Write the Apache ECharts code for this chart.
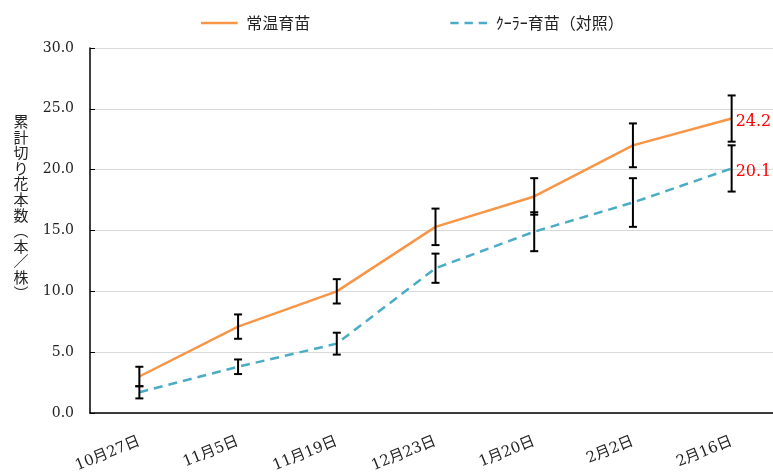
<!DOCTYPE html>
<html><head><meta charset="utf-8">
<script src="https://cdn.jsdelivr.net/npm/echarts@6/dist/echarts.min.js"></script>
<style>html,body{margin:0;padding:0;background:#fff;overflow:hidden}#c{width:781px;height:472px}</style>
</head><body><div id="c"></div>
<script>
const categories = ['10月27日','11月5日','11月19日','12月23日','1月20日','2月2日','2月16日'];
const seriesNames = ['常温育苗','ｸｰﾗｰ育苗（対照）'];
const normalTemp = [3.0, 7.1, 10.0, 15.3, 17.8, 22.0, 24.2];
const normalErr  = [0.8, 1.0, 1.0, 1.5, 1.5, 1.8, 1.9];
const cooler     = [1.7, 3.8, 5.7, 11.9, 14.9, 17.3, 20.1];
const coolerErr  = [0.5, 0.6, 0.9, 1.2, 1.6, 2.0, 1.9];
const yTicks = {min: 0, max: 30, interval: 5};
const yTitle = '累計切り花本数︵本／株︶';

function errData(vals, errs){ return vals.map((v,i)=>[i, v-errs[i], v+errs[i]]); }
function renderErr(params, api){
  const x = api.value(0);
  const lo = api.coord([x, api.value(1)]);
  const hi = api.coord([x, api.value(2)]);
  const w = 4;
  const st = {stroke:'#000', lineWidth:2};
  return {type:'group', children:[
    {type:'line', shape:{x1:lo[0],y1:lo[1],x2:hi[0],y2:hi[1]}, style:st},
    {type:'line', shape:{x1:lo[0]-w,y1:lo[1],x2:lo[0]+w,y2:lo[1]}, style:st},
    {type:'line', shape:{x1:hi[0]-w,y1:hi[1],x2:hi[0]+w,y2:hi[1]}, style:st}
  ]};
}
const serif = "'DejaVu Serif', 'Noto Sans CJK JP', serif";
const chart = echarts.init(document.getElementById('c'));
const endLbl = {show:true, distance:4, color:'#ff0000', fontFamily:serif, fontSize:16, offset:[0,3],
  formatter:(p)=> Number(p.value).toFixed(1)};
chart.setOption({
  animation:false,
  legend:{left:196, top:10, itemWidth:44, itemHeight:2.5, itemGap:140,
    data:[{name:seriesNames[0], icon:'path://M0,0h44v3h-44z'},
          {name:seriesNames[1], icon:'path://M0,0h10v3h-10zM17,0h10v3h-10zM34,0h10v3h-10z'}],
    textStyle:{fontSize:16, fontFamily:"'Noto Sans CJK JP', sans-serif", color:'#222'}},
  graphic:[{type:'text', x:21, y:207, style:{text: yTitle.split('').join('\n'), fontSize:15, lineHeight:15.6,
    fontFamily:"'Noto Sans CJK JP', sans-serif", fill:'#222', textAlign:'center', textVerticalAlign:'middle'}}],
  grid:{left:90, top:48, bottom:59, right:0, containLabel:false, outerBoundsMode:'none'},
  xAxis:{type:'category', data:categories, boundaryGap:true,
    axisLine:{lineStyle:{color:'#000', width:1.5}},
    axisTick:{inside:true, length:5, lineStyle:{color:'#000'}},
    axisLabel:{rotate:22, margin:28, fontSize:15, color:'#222', fontFamily:serif, interval:0}},
  yAxis:{type:'value', min:yTicks.min, max:yTicks.max, interval:yTicks.interval,
    axisLine:{show:true, lineStyle:{color:'#000', width:1.5}},
    axisTick:{show:true, inside:true, length:5, lineStyle:{color:'#000'}},
    splitLine:{lineStyle:{color:'#d9d9d9', width:1}},
    axisLabel:{margin:16, fontSize:14, color:'#222', fontFamily:serif, formatter:(v)=>v.toFixed(1)}},
  series:[
    {name:seriesNames[0], type:'line', data:normalTemp, symbol:'none', z:3,
      lineStyle:{color:'#f79646', width:2.5}, itemStyle:{color:'#f79646'}, endLabel:endLbl},
    {name:seriesNames[1], type:'line', data:cooler, symbol:'none', z:3,
      lineStyle:{color:'#4bacc6', width:2.5, type:[9,6]}, itemStyle:{color:'#4bacc6'}, endLabel:endLbl},
    {type:'custom', renderItem:renderErr, data:errData(normalTemp, normalErr), z:4, silent:true},
    {type:'custom', renderItem:renderErr, data:errData(cooler, coolerErr), z:4, silent:true}
  ]
});
</script></body></html>
